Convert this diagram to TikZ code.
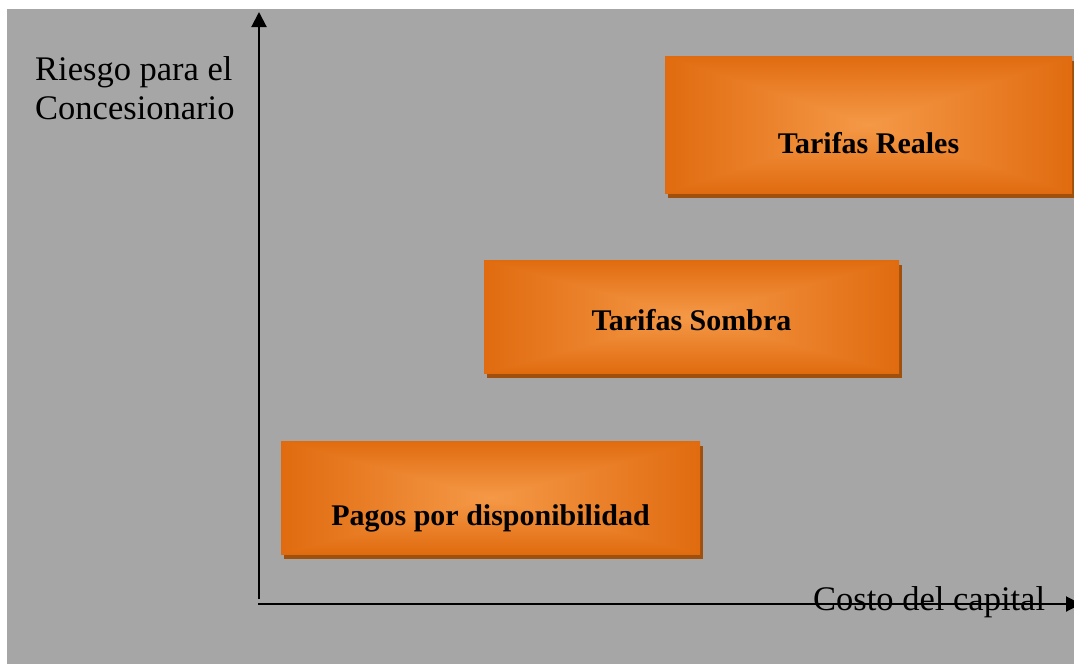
\documentclass[tikz,border=0pt]{standalone}
\usepackage{fontspec}
\setmainfont{Liberation Serif}
\usetikzlibrary{arrows.meta,shadows}
\definecolor{bggray}{HTML}{A6A6A6}
\definecolor{shadowbrown}{HTML}{9E500C}
\pgfdeclarefunctionalshading{boxshade}{\pgfpoint{0bp}{0bp}}{\pgfpoint{100bp}{100bp}}{}{
  50 sub abs 25 div exch 50 sub abs 25 div
  2 copy lt {exch} if pop
  dup 1 gt {pop 1} if
  dup -0.08 mul 0.96 add
  exch dup -0.18 mul 0.60 add
  exch -0.22 mul 0.28 add
}
\tikzset{
  orangebox/.style={rectangle, inner sep=0pt, shading=boxshade,
    drop shadow={shadow xshift=2.5pt, shadow yshift=-5pt, opacity=1, fill=shadowbrown}},
  boxlabel/.style={font=\fontsize{30}{36}\selectfont\bfseries, anchor=base, inner sep=0pt},
  axislabel/.style={font=\fontsize{34.5}{39}\selectfont, inner sep=0pt},
  axisline/.style={line width=2pt, -{Triangle[width=15pt,length=15pt]}}
}
\begin{document}
\begin{tikzpicture}[x=1pt,y=-1pt]
\useasboundingbox (0,0) rectangle (1074,664);
\fill[white] (0,0) rectangle (1074,664);
\fill[bggray] (7,9) rectangle (1074,664);
% boxes
\node[orangebox, minimum width=407pt, minimum height=137pt] (reales) at (868.5,124.5) {};
\node[orangebox, minimum width=415pt, minimum height=113pt] (sombra) at (691.5,316.5) {};
\node[orangebox, minimum width=419pt, minimum height=113pt] (pagos) at (490.5,497.5) {};
\node[boxlabel] (realesT) at (868.5,153) {Tarifas Reales};
\node[boxlabel] (sombraT) at (691.5,330) {Tarifas Sombra};
\node[boxlabel] (pagosT) at (490.5,525) {Pagos por disponibilidad};
% axes
\coordinate (ytop) at (259,12);
\coordinate (ybot) at (259,599);
\coordinate (xleft) at (258,604);
\coordinate (xright) at (1081,604);
\draw[axisline] (ybot) -- (ytop);
\draw[axisline] (xleft) -- (xright);
\node[axislabel, anchor=base west, align=left] (ylabel) at (35,119) {Riesgo para el\\Concesionario};
\node[axislabel, anchor=base west] (xlabel) at (813,610) {Costo del capital};
\end{tikzpicture}
\end{document}
